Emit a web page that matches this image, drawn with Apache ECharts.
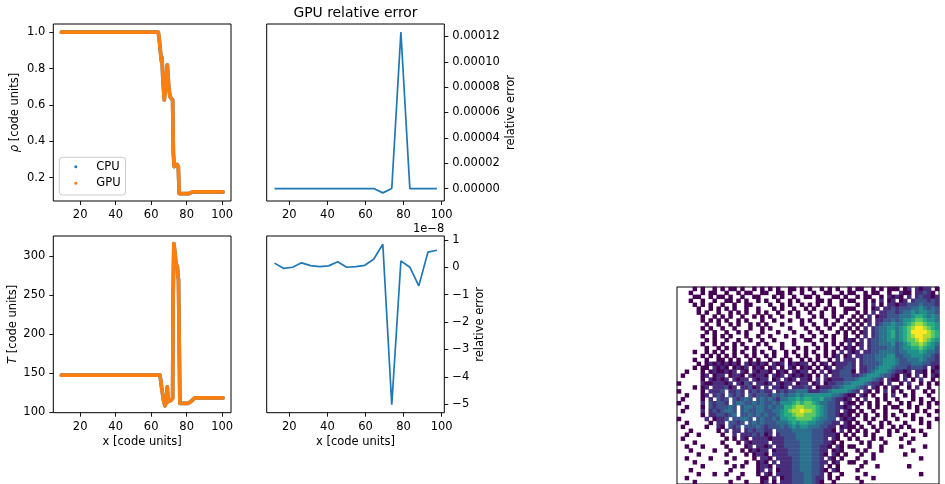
<!DOCTYPE html>
<html><head><meta charset="utf-8">
<script src="https://cdn.jsdelivr.net/npm/echarts@6/dist/echarts.min.js"></script>
<style>html,body{margin:0;padding:0;background:#fff}#c{width:945px;height:484px}</style>
</head><body><div id="c"></div>
<script>
// ---- density profile (CPU and GPU are identical) ----
const rhoX = [9.4, 64.0, 64.6, 65.5, 65.8, 66.1, 66.6, 66.9, 67.4, 68.0, 68.3, 69.1, 69.9, 70.6, 71.5, 72.1, 72.5, 73.0, 74.0, 74.6, 75.3, 75.8, 78.0, 81.5, 83.5, 100.5];
const rhoY = [1.0, 1.0, 0.958, 0.866, 0.84, 0.86, 0.745, 0.75, 0.627, 0.62, 0.737, 0.82, 0.70, 0.645, 0.65, 0.627, 0.335, 0.26, 0.262, 0.272, 0.26, 0.112, 0.112, 0.112, 0.121, 0.121];
// ---- temperature profile ----
const tX = [9.4, 65.0, 66.0, 67.0, 67.8, 68.4, 69.1, 69.6, 70.2, 71.0, 72.1, 72.4, 72.6, 72.8, 73.2, 73.6, 74.0, 74.3, 74.8, 75.1, 75.4, 75.8, 76.0, 76.2, 80.9, 82.5, 84.6, 100.5];
const tY = [147.5, 147.5, 130, 115, 108.4, 112, 132.7, 113.6, 114, 115, 118, 250, 252, 316, 314, 300, 290, 288, 286, 274, 270, 268, 150, 111.5, 111.5, 114, 118.5, 118.5];
// ---- GPU relative error ----
const errX = [12.2, 16.9, 21.7, 26.4, 31.2, 35.9, 40.6, 45.4, 50.1, 54.9, 59.6, 64.3, 69.1, 73.8, 78.6, 83.3, 88.0, 92.8, 97.5];
const errRho = [0, -0.3e-7, 0.5e-7, 0.3e-7, 0, 0.5e-7, -0.5e-7, 0, 0, 0, 0, 0, -3.4e-6, 0, 1.235e-4, 0, 0, 0, 0];
const errT_e8 = [0.15, -0.04, 0.0, 0.16, 0.06, 0.02, 0.05, 0.2, 0.0, 0.02, 0.07, 0.29, 0.84, -5.02, 0.23, 0.0, -0.68, 0.55, 0.62];
// ---- tick labels ----
const xTicks = [20, 40, 60, 80, 100];
const rhoTicks = [0.2, 0.4, 0.6, 0.8, 1.0];
const tTicks = [100, 150, 200, 250, 300];
const errRhoTicks = [0, 0.00002, 0.00004, 0.00006, 0.00008, 0.0001, 0.00012];
const errTTicks = [-5, -4, -3, -2, -1, 0, 1];
// ---- 2D histogram (levels 1-9, '.' empty), rows top to bottom ----
const heatRows = [
"....1.1..1.|1.11.1..1.1|.1.1..11.1.|1..1.1.1..1|.11..1.1.11|1.12.2122.1",
"...1..1.11.|.1..1.11..1|1..11.1..1.|.1..11..1.1|1..1.11..1.|.211.22321.",
"....11..1.1|1.1..1..11.|..1.1..1..1|1.1...11.1.|.1.11..1.21|21.2.232212",
"...1..1..1.|.11.1.1..1.|1..1..1.1..|..11.1..1.1|1..1.1.2.12|.12.2333232",
"....1.1.1..|1..1..11...|.1..1.1..1.|1.1..1..1..|.1.1.2.1.22|12233343332",
".....1..1.1|.1.1..1..1.|..1.1..1..1|.1..1.1..11|1..1.12.223|23334454343",
".....1.1..1|..1.1.1..1.|1..1..1.1..|1..1..1..1.|.1.1.2.2233|23445455443",
"......1..1.|1.1..1..1.1|.1..1...1..|.1.1..1.1..|1.1.2.12233|34445665454",
"......1.1.1|.1..1.1...1|..1...1..1.|1...1..1..1|.1.12.22334|34556776554",
".......1..1|..1.1..1.1.|1...1....1.|.1..1.1..1.|1.1.2.23445|44567887665",
"......1.1..|1..1...1..1|.1....1...1|..1..1..1.1|.1.2.234455|45678998765",
".......1.1.|.1..1.1...1|...1...1...|1..1...1.1.|1.12.234456|45679999876",
"......1..1.|1.1...1..1.|.1...1...1.|.1..1.1..1.|.1.2.234456|45678998876",
".......1.1.|.1..1..1..1|..1....1..1|1..1..1..12|1.2.2334455|45677898765",
"......1..1.|1..1.1...1.|1...1..1...|.1..1.1.1.2|.12.2334445|34567787654",
".......1..1|.1.1..1.1..|.1..1...1.1|..1.1..1.12|1.2.2333344|34556676553",
"....1..1.1.|1..1.1..1.1|..1..1.1..1|.1..1.1.2.2|12.22334444|34455565443",
"......1.1.1|.1.1..1.1..|1.1..1..1.1|..1.1.12.12|.2233344455|33445554432",
"....1..1..1|1.1.1..1.1.|.1..1.1..1.|1.1..1.2.22|2.233344555|43344454332",
".....1.1212|12121.21212|1.212.12122|.1.12.12223|2.233334555|43334443322",
"....1.11.21|21.1212.121|.12.1.21.12|1.1.12.2233|2.223345554|33323332.21",
"..1...1.121|1212.21.212|21.121.2122|.1.2.122333|1.223455543|2212.221.12",
".1....12.12|2.1221.2122|1.212.21212|1.1.2.22333|22345554332|1.21.2.1.21",
"......1.212|12.2122.212|2.12.212.22|1.2.2122233|34555432.21|1.2.1.2..1.",
"1.....21122|212.2132.22|12.2122.122|.12.1223344|55543221.2.|.1.2..1.1.1",
"....1.12.22|2312.22312.|2.2212.2223|2.122233455|5432.21.1.2|1..1.2..1..",
"1.....1.222|3.2232.2323|22.23233444|22233455554|32.21.1.2.1|.1..1..1.1.",
"..1...12.23|2.3232.3233|32434344545|55555544321|1.21.1..1.2|..1.1...1..",
".1....1.2.3|23.32343.34|34324455656|65564432212|.1.2..1.1..|1...1.1..1.",
"1.....2.323|32.34433434|33435556767|76544332.21|1.1.1.1..1.|.1.1..1.1.1",
"..1...1.323|3343.344344|34344667887|77654332212|.1..1.1.1.1|1..1.1..1..",
".1....2.232|3443.343344|33445678898|87654332.21|1.1..1..1..|.1...1.1..1",
"......1.223|3234.334343|43345667887|77654332121|.1.1..1.1.1|..1.1...1..",
"1......2.12|23.33443.34|33435566777|7654433.212|1..1.1..1..|1...1.1...1",
"..1.....1.2|2.3323.3434|33344456566|55443322.21|.1..1..1.1.|..1...1.1..",
".1.....1..2|1.323.33343|23334345455|4443322.121|1.1..1.1..1|.1.1....1..",
"...1......1|.2.22.23233|22.33334444|4333221.2.1|.1.1..1..1.|1...1.1....",
"..1..1.....|1..2.222323|12.23333444|43332221.1.|1..1.1...1.|..1....1...",
".1.........|.1.1.21.222|21222333444|43332.21..1|.1...1.1...|.1..1......",
"....1......|1...1.21222|2.222333344|4333221.1..|..1.1...1..|...1.......",
"..1...1....|.1....12.22|12.22333344|433221.21.1|1...1..1...|.1.....1...",
"...1.....1.|..1..1.1212|2.122233344|43322.121..|.1.1...1...|....1......",
".....1.....|.1....1.122|1.222233344|43321.21.1.|..1..1.....|..1........",
"..1.....1..|...1....1.2|21.22223344|4332.21.1..|.1...1.....|......1....",
"....1......|.1....1..12|1.2.2223344|43322.12..1|1..1.......|...........",
"......1....|...1.1...12|21.22223344|4332.1.1...|..1...1....|...1.......",
"...1.......|..1......12|.2.12223344|43321.21...|.1.........|...........",
".....1...1.|.1...1...1.|21.22223334|4332.1..1..|...1.......|......1....",
"..1........|....1.....1|1.2.1223334|4322.1.1...|.1...1.....|...........",
"....1......|..1...1...1|2.1.2223334|4321..1....|..1........|..........."
];
const viridis = ['#440154','#472d7b','#3b528b','#2c728e','#21918c','#28ae80','#5ec962','#addc30','#fde725'];

const NCOL = 66, NROW = heatRows.length;
const cells = [];
heatRows.forEach((row, r) => {
  const s = row.replace(/\|/g, '');
  for (let c = 0; c < NCOL && c < s.length; c++) {
    const ch = s[c];
    if (ch !== '.') cells.push([c, r, +ch]);
  }
});

const FONT = 'DejaVu Sans';
const FS = 11.5;
const C0 = '#1f77b4', C1 = '#ff7f0e';
const zip = (a, b) => a.map((v, i) => [v, b[i]]);
const minusFmt = v => (v < 0 ? '\u2212' + Math.abs(v) : String(v));

function vAxis(o) {
  return Object.assign({
    type: 'value', scale: true,
    axisLine: { show: false, onZero: false },
    splitLine: { show: false },
    axisTick: { show: true, inside: false, length: 4, lineStyle: { color: '#000', width: 0.9 }, customValues: o.ticks },
    axisLabel: { show: true, customValues: o.ticks, margin: 8, fontFamily: FONT, fontSize: FS, color: '#000', formatter: o.fmt || (v => String(v)) },
    nameTextStyle: { fontFamily: FONT, fontSize: FS, color: '#000', rich: { i: { fontStyle: 'italic', fontFamily: FONT, fontSize: FS, color: '#000' } } }
  }, o.extra);
}

const gridStyle = { show: true, borderColor: '#000', borderWidth: 1, backgroundColor: 'transparent' };

function profLine(name, xi, yi, xs, ys, color, z) {
  return { name, type: 'line', xAxisIndex: xi, yAxisIndex: yi, z, data: zip(xs, ys), showSymbol: false, symbol: 'circle', symbolSize: 3,
    color, itemStyle: { color }, lineStyle: { color, width: 3.7, cap: 'round', join: 'round' } };
}

const option = {
  animation: false,
  backgroundColor: '#fff',
  grid: [
    Object.assign({ left: 53.3, top: 24, width: 177.7, height: 177 }, gridStyle),
    Object.assign({ left: 266.7, top: 24, width: 177.6, height: 177 }, gridStyle),
    Object.assign({ left: 53.3, top: 236, width: 177.7, height: 176.7 }, gridStyle),
    Object.assign({ left: 266.7, top: 236, width: 177.6, height: 176.7 }, gridStyle),
    Object.assign({ left: 677, top: 287, width: 262, height: 200 }, gridStyle)
  ],
  xAxis: [
    vAxis({ ticks: xTicks, extra: { gridIndex: 0, min: 4.85, max: 105 } }),
    vAxis({ ticks: xTicks, extra: { gridIndex: 1, min: 8.1, max: 101.4 } }),
    vAxis({ ticks: xTicks, extra: { gridIndex: 2, min: 4.85, max: 105, name: 'x [code units]', nameLocation: 'middle', nameGap: 23 } }),
    vAxis({ ticks: xTicks, extra: { gridIndex: 3, min: 8.1, max: 101.4, name: 'x [code units]', nameLocation: 'middle', nameGap: 23 } }),
    { type: 'category', gridIndex: 4, data: Array.from({ length: NCOL }, (_, i) => i), show: false }
  ],
  yAxis: [
    vAxis({ ticks: rhoTicks, fmt: v => v.toFixed(1), extra: { gridIndex: 0, min: 0.071, max: 1.045, name: '{i|ρ} [code units]', nameLocation: 'middle', nameGap: 32, nameRotate: 90 } }),
    vAxis({ ticks: errRhoTicks, fmt: v => v.toFixed(5), extra: { gridIndex: 1, position: 'right', min: -9.8e-6, max: 1.298e-4, name: 'relative error', nameLocation: 'middle', nameGap: 61, nameRotate: 90 } }),
    vAxis({ ticks: tTicks, extra: { gridIndex: 2, min: 99.5, max: 325.6, name: '{i|T} [code units]', nameLocation: 'middle', nameGap: 32, nameRotate: 90 } }),
    vAxis({ ticks: errTTicks, fmt: minusFmt, extra: { gridIndex: 3, position: 'right', min: -5.31, max: 1.14, name: 'relative error', nameLocation: 'middle', nameGap: 30, nameRotate: 90 } }),
    { type: 'category', gridIndex: 4, inverse: true, data: Array.from({ length: NROW }, (_, i) => i), show: false }
  ],
  legend: {
    data: ['CPU', 'GPU'], orient: 'vertical', left: 59.3, top: 157.3,
    icon: 'circle', itemWidth: 3, itemHeight: 3, itemGap: 2.6,
    padding: [2.4, 5, 4.7, 15],
    backgroundColor: 'rgba(255,255,255,0.8)', borderColor: '#cccccc', borderWidth: 1, borderRadius: 3,
    textStyle: { fontFamily: FONT, fontSize: FS, color: '#000', lineHeight: 14, padding: [0, 0, 0, 14] }
  },
  visualMap: { type: 'continuous', min: 1, max: 9, seriesIndex: 6, show: false, inRange: { color: viridis } },
  graphic: [
    { type: 'text', x: 355.5, y: 13, style: { text: 'GPU relative error', font: '13.9px "DejaVu Sans"', fill: '#000', textAlign: 'center', textVerticalAlign: 'middle' } },
    { type: 'text', x: 444.3, y: 229.5, style: { text: '1e\u22128', font: FS + 'px "DejaVu Sans"', fill: '#000', textAlign: 'right', textVerticalAlign: 'middle' } }
  ],
  series: [
    profLine('CPU', 0, 0, rhoX, rhoY, C0, 2),
    profLine('GPU', 0, 0, rhoX, rhoY, C1, 3),
    profLine('CPU', 2, 2, tX, tY, C0, 2),
    profLine('GPU', 2, 2, tX, tY, C1, 3),
    { name: 'errRho', type: 'line', xAxisIndex: 1, yAxisIndex: 1, data: zip(errX, errRho), showSymbol: false, symbol: 'none', lineStyle: { color: C0, width: 1.7 }, itemStyle: { color: C0 } },
    { name: 'errT', type: 'line', xAxisIndex: 3, yAxisIndex: 3, data: zip(errX, errT_e8), showSymbol: false, symbol: 'none', lineStyle: { color: C0, width: 1.7 }, itemStyle: { color: C0 } },
    { name: 'hist', type: 'heatmap', xAxisIndex: 4, yAxisIndex: 4, data: cells, itemStyle: { borderWidth: 0 }, emphasis: { disabled: true } }
  ]
};

const chart = echarts.init(document.getElementById('c'), null, { renderer: 'canvas' });
chart.setOption(option);
</script>
</body></html>
